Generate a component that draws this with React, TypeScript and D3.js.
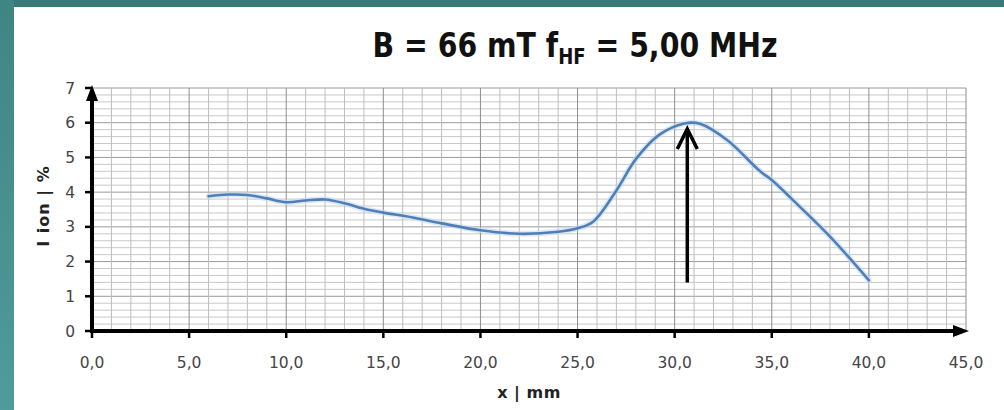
import React, { useMemo } from 'react';
import * as d3 from 'd3';

const xValues = [6, 7, 8, 9, 10, 11, 12, 13, 14, 15, 16.5, 18, 20, 22, 24, 25, 25.8, 27, 28, 29.2, 30.5, 31.3, 32.7, 34.4, 35, 36, 38, 40];
const ionValues = [3.88, 3.93, 3.92, 3.82, 3.71, 3.76, 3.79, 3.68, 3.52, 3.41, 3.27, 3.1, 2.9, 2.8, 2.86, 2.96, 3.15, 4.05, 4.95, 5.65, 5.98, 5.97, 5.5, 4.6, 4.35, 3.82, 2.72, 1.46];

const xTicks = [0, 5, 10, 15, 20, 25, 30, 35, 40, 45];
const yTicks = [0, 1, 2, 3, 4, 5, 6, 7];

// marker arrow: points at the maximum
const markerX = 30.65;
const markerFrom = 1.4;
const markerTo = 5.82;

const width = 1004;
const height = 410;

export default function App() {
  const x = useMemo(() => d3.scaleLinear().domain([0, 45]).range([92, 966]), []);
  const y = useMemo(() => d3.scaleLinear().domain([0, 7]).range([331, 88]), []);

  const data = xValues.map((v, i) => ({ x: v, y: ionValues[i] }));

  const line = d3.line<{ x: number; y: number }>()
    .x(d => x(d.x))
    .y(d => y(d.y))
    .curve(d3.curveCatmullRom.alpha(0.5));

  const vLines = d3.range(0, 46, 1);
  const hLines = d3.range(0, 35.5, 1).map(i => i / 5);

  const fmt = (v: number) => v.toFixed(1).replace('.', ',');

  const x0 = x(0);
  const y0 = y(0);

  return (
    <svg width={width} height={height} style={{ position: 'absolute', left: 0, top: 0 }}>
      <defs>
        <linearGradient id="side" x1="0" y1="0" x2="0" y2="1">
          <stop offset="0" stopColor="#3f8583" />
          <stop offset="1" stopColor="#4f9c9a" />
        </linearGradient>
      </defs>
      <rect x={0} y={0} width={width} height={height} fill="#ffffff" />
      <rect x={0} y={0} width={width} height={7} fill="#3a7978" />
      <rect x={0} y={0} width={14} height={height} fill="url(#side)" />

      {/* title, squeezed a bit to look like the narrow original font */}
      <g transform="translate(575, 57) scale(0.86, 1)">
        <text
          x={0}
          y={0}
          textAnchor="middle"
          fontFamily="'DejaVu Sans', sans-serif"
          fontWeight="bold"
          fontSize={33}
          fill="#111"
        >
          B = 66 mT  f<tspan fontSize={21} dy={7}>HF</tspan><tspan dy={-7}> = 5,00 MHz</tspan>
        </text>
      </g>

      {/* grid */}
      <g>
        {hLines.map((v, i) => (
          <line
            key={'h' + i}
            x1={x0}
            x2={x(45)}
            y1={y(v)}
            y2={y(v)}
            stroke={i % 5 === 0 ? '#9a9a9a' : '#c9c9c9'}
            strokeWidth={1}
          />
        ))}
        {vLines.map(v => (
          <line
            key={'v' + v}
            x1={x(v)}
            x2={x(v)}
            y1={y(7)}
            y2={y0}
            stroke={v % 5 === 0 ? '#8f8f8f' : '#bdbdbd'}
            strokeWidth={1}
          />
        ))}
      </g>

      {/* data line */}
      <path d={line(data) || ''} fill="none" stroke="#c9dcef" strokeWidth={6} strokeLinecap="round" opacity={0.6} />
      <path d={line(data) || ''} fill="none" stroke="#4f7fb8" strokeWidth={2.6} strokeLinecap="round" />

      {/* axes */}
      <g stroke="#000" strokeWidth={4}>
        <line x1={x0} x2={x0} y1={y0 + 2} y2={y(7) + 10} />
        <line x1={x0 - 2} x2={x(45) - 10} y1={y0} y2={y0} />
      </g>
      <polygon points={`${x0},${y(7) - 3} ${x0 - 6},${y(7) + 13} ${x0 + 6},${y(7) + 13}`} fill="#000" />
      <polygon points={`${x(45) + 3},${y0} ${x(45) - 13},${y0 - 6} ${x(45) - 13},${y0 + 6}`} fill="#000" />

      {/* ticks */}
      <g stroke="#000" strokeWidth={2.5}>
        {yTicks.map(t => (
          <line key={'yt' + t} x1={x0 - 7} x2={x0} y1={y(t)} y2={y(t)} />
        ))}
        {xTicks.slice(0, -1).map(t => (
          <line key={'xt' + t} x1={x(t)} x2={x(t)} y1={y0} y2={y0 + 7} />
        ))}
      </g>

      {/* tick labels */}
      <g fontFamily="'DejaVu Sans', sans-serif" fontSize={15.5} fill="#444">
        {yTicks.map(t => (
          <text key={'yl' + t} x={x0 - 17} y={y(t) + 5.5} textAnchor="end">{t}</text>
        ))}
        {xTicks.map(t => (
          <text key={'xl' + t} x={x(t)} y={y0 + 37} textAnchor="middle">{fmt(t)}</text>
        ))}
      </g>

      {/* axis titles */}
      <text
        x={529}
        y={398}
        textAnchor="middle"
        fontFamily="'DejaVu Sans', sans-serif"
        fontWeight="bold"
        fontSize={16}
        letterSpacing={0.5}
        fill="#222"
      >
        x | mm
      </text>
      <text
        transform={`translate(49, ${y(3.6)}) rotate(-90)`}
        textAnchor="middle"
        fontFamily="'DejaVu Sans', sans-serif"
        fontWeight="bold"
        fontSize={16}
        letterSpacing={1}
        fill="#222"
      >
        I ion | %
      </text>

      {/* marker arrow */}
      <line x1={x(markerX)} x2={x(markerX)} y1={y(markerFrom)} y2={y(markerTo)} stroke="#000" strokeWidth={3.5} />
      <polyline
        points={`${x(markerX) - 10},${y(markerTo) + 20} ${x(markerX)},${y(markerTo)} ${x(markerX) + 10},${y(markerTo) + 20}`}
        fill="none"
        stroke="#000"
        strokeWidth={3.5}
      />
    </svg>
  );
}
